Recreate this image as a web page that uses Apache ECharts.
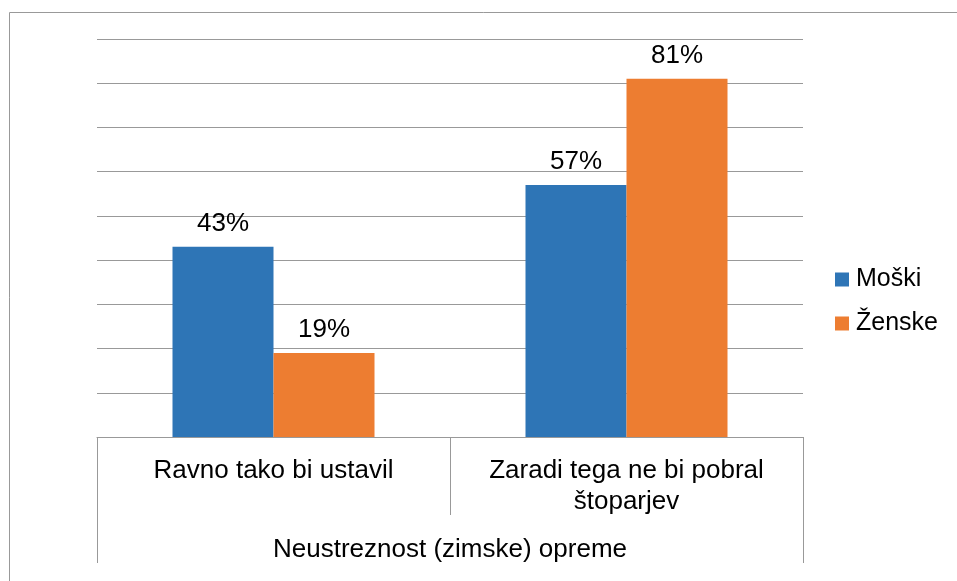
<!DOCTYPE html>
<html>
<head>
<meta charset="utf-8">
<script src="https://cdn.jsdelivr.net/npm/echarts@6/dist/echarts.min.js"></script>
<style>
  html, body { margin: 0; padding: 0; background: #fff; }
  #chart { width: 957px; height: 581px; }
</style>
</head>
<body>
<div id="chart"></div>
<script>
// kategorije in vrednosti (v %)
const categories = ['Ravno tako bi ustavil', 'Zaradi tega ne bi pobral\nštoparjev'];
const groupLabel = ['Neustreznost (zimske) opreme'];
const seriesNames = ['Moški', 'Ženske'];
const moski = [43, 57];
const zenske = [19, 81];

const font = '"Liberation Sans", Arial, sans-serif';
const lineColor = '#999';

const chart = echarts.init(document.getElementById('chart'));

const option = {
  animation: false,
  textStyle: { fontFamily: font },
  color: ['#2E75B6', '#ED7D31'],
  graphic: [{
    type: 'rect',
    shape: { x: 9.5, y: 12.5, width: 1000, height: 1000 },
    style: { fill: 'none', stroke: lineColor, lineWidth: 1 },
    silent: true
  }],
  grid: { left: 97, right: 154, top: 39, bottom: 144 },
  legend: {
    orient: 'vertical',
    left: 830,
    top: 262,
    itemWidth: 14,
    itemHeight: 14,
    itemGap: 19,
    icon: 'rect',
    textStyle: { fontSize: 25, color: '#000', fontFamily: font, padding: [0, 0, 0, 2] },
    data: seriesNames
  },
  xAxis: [{
    type: 'category',
    data: categories,
    boundaryGap: true,
    axisLine: { show: true, lineStyle: { color: lineColor } },
    axisTick: { show: true, interval: 0, alignWithLabel: false, length: 78, lineStyle: { color: lineColor, width: 1 } },
    axisLabel: {
      interval: 0, margin: 18, fontSize: 26, lineHeight: 31,
      color: '#000', fontFamily: font, verticalAlign: 'top'
    }
  }, {
    type: 'category',
    data: groupLabel,
    position: 'bottom',
    boundaryGap: true,
    axisLine: { show: false },
    axisTick: { show: true, interval: 0, alignWithLabel: false, length: 126, lineStyle: { color: lineColor, width: 1 } },
    axisLabel: { margin: 100, fontSize: 26, color: '#000', fontFamily: font, verticalAlign: 'top' }
  }],
  yAxis: {
    type: 'value',
    min: 0,
    max: 90,
    interval: 10,
    axisLabel: { show: false },
    axisLine: { show: false },
    axisTick: { show: false },
    splitLine: { lineStyle: { color: lineColor } }
  },
  series: [{
    name: seriesNames[0],
    type: 'bar',
    data: moski,
    barWidth: 101,
    barGap: '0%',
    label: {
      show: true, position: 'top', distance: 10, fontSize: 26, color: '#000',
      fontFamily: font, formatter: '{c}%'
    }
  }, {
    name: seriesNames[1],
    type: 'bar',
    data: zenske,
    barWidth: 101,
    barGap: '0%',
    label: {
      show: true, position: 'top', distance: 10, fontSize: 26, color: '#000',
      fontFamily: font, formatter: '{c}%'
    }
  }]
};

chart.setOption(option);
</script>
</body>
</html>
